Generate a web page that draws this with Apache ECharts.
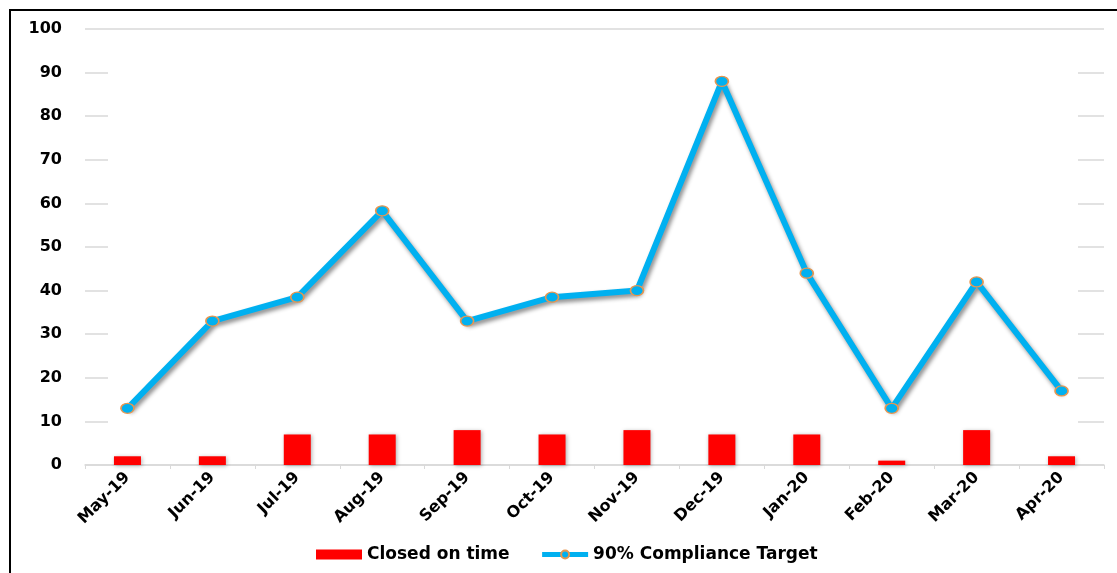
<!DOCTYPE html>
<html>
<head>
<meta charset="utf-8">
<script src="https://cdn.jsdelivr.net/npm/echarts@6/dist/echarts.min.js"></script>
<style>
html,body{margin:0;padding:0;background:#fff;}
#main{width:1117px;height:573px;}
</style>
</head>
<body>
<div id="main"></div>
<script>
var categories = ['May-19','Jun-19','Jul-19','Aug-19','Sep-19','Oct-19','Nov-19','Dec-19','Jan-20','Feb-20','Mar-20','Apr-20'];
var closedOnTime = [2, 2, 7, 7, 8, 7, 8, 7, 7, 1, 8, 2];
var complianceTarget = [13, 33, 38.5, 58.3, 33, 38.5, 40, 88, 44, 13, 42, 17];
var yTicks = [0, 10, 20, 30, 40, 50, 60, 70, 80, 90, 100];

var chart = echarts.init(document.getElementById('main'), null, {renderer: 'canvas'});
var font = 'DejaVu Sans';
chart.setOption({
  animation: false,
  backgroundColor: '#fff',
  graphic: [
    {type: 'rect', z: 1, silent: true, shape: {x: 108, y: 36, width: 970, height: 424}, style: {fill: '#fff'}},
    {type: 'rect', z: 100, silent: true, shape: {x: 10, y: 10, width: 1130, height: 600}, style: {fill: 'none', stroke: '#000', lineWidth: 2}}
  ],
  grid: {left: 85, right: 13, top: 29, bottom: 108, containLabel: false},
  legend: {
    left: 311, top: 541,
    itemWidth: 46, itemHeight: 10, itemGap: 30,
    textStyle: {fontFamily: font, fontWeight: 'bold', fontSize: 17, color: '#000'},
    data: [
      {name: 'Closed on time', icon: 'rect'},
      {name: '90% Compliance Target', lineStyle: {width: 5, color: '#00B0F0'}}
    ]
  },
  xAxis: {
    type: 'category',
    data: categories,
    boundaryGap: true,
    axisLine: {lineStyle: {color: '#d9d9d9', width: 1.5}},
    axisTick: {show: true, length: 4, lineStyle: {color: '#d9d9d9'}},
    axisLabel: {rotate: 45, margin: 10, fontFamily: font, fontWeight: 'bold', fontSize: 16, color: '#000'},
    splitLine: {show: false}
  },
  yAxis: {
    type: 'value',
    min: yTicks[0], max: yTicks[yTicks.length - 1], interval: 10,
    axisLine: {show: false},
    axisTick: {show: false},
    axisLabel: {margin: 23, fontFamily: font, fontWeight: 'bold', fontSize: 16, color: '#000'},
    splitLine: {show: true, lineStyle: {color: '#d9d9d9', width: 1.5}}
  },
  series: [
    {
      name: 'Closed on time',
      type: 'bar',
      data: closedOnTime,
      barWidth: 27,
      z: 2,
      itemStyle: {color: '#FF0000', shadowColor: 'rgba(0,0,0,0.3)', shadowBlur: 4, shadowOffsetX: 1, shadowOffsetY: 1}
    },
    {
      name: '90% Compliance Target',
      type: 'line',
      data: complianceTarget,
      z: 3,
      symbol: 'circle',
      symbolSize: [13, 10],
      showAllSymbol: true,
      lineStyle: {color: '#00B0F0', width: 6, shadowColor: 'rgba(0,0,0,0.45)', shadowBlur: 4, shadowOffsetX: 2, shadowOffsetY: 3},
      itemStyle: {color: '#00B0F0', borderColor: '#E8964F', borderWidth: 1.5}
    }
  ]
});
</script>
</body>
</html>
